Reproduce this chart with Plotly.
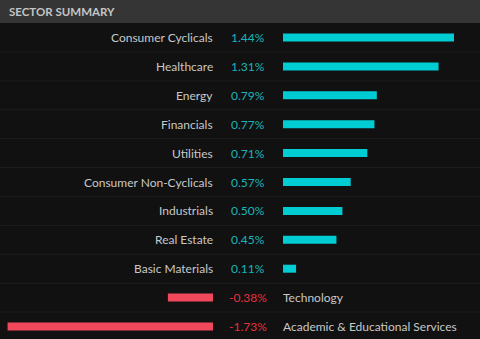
import plotly.graph_objects as go

sectors = ["Consumer Cyclicals", "Healthcare", "Energy", "Financials", "Utilities",
           "Consumer Non-Cyclicals", "Industrials", "Real Estate", "Basic Materials",
           "Technology", "Academic & Educational Services"]
changes = [1.44, 1.31, 0.79, 0.77, 0.71, 0.57, 0.50, 0.45, 0.11, -0.38, -1.73]
title = "SECTOR SUMMARY"

W, H = 480, 339
PX_PER_UNIT = 118.75
POS_ZERO = 283
NEG_ZERO = 213
VAL_CENTER = 248
ROW0 = 37.5
ROW_H = 28.9
HEADER_H = 23

BG = "#111111"
HEADER_BG = "#353535"
SEP = "#1e1e1e"
CYAN = "#00ccd3"
RED = "#f2485c"
POS_TXT = "#18b5bb"
NEG_TXT = "#e5303f"
LABEL = "#c8c8c8"
FONT = "Lato"

rows = list(range(len(sectors)))
pos_idx = [i for i, v in enumerate(changes) if v >= 0]
neg_idx = [i for i, v in enumerate(changes) if v < 0]

fig = go.Figure()
fig.add_trace(go.Bar(
    x=[changes[i] for i in pos_idx], y=[rows[i] for i in pos_idx],
    orientation="h", marker=dict(color=CYAN, line_width=0), width=8 / ROW_H,
    xaxis="x", yaxis="y", hoverinfo="skip", showlegend=False))
fig.add_trace(go.Bar(
    x=[changes[i] for i in neg_idx], y=[rows[i] for i in neg_idx],
    orientation="h", marker=dict(color=RED, line_width=0), width=8 / ROW_H,
    xaxis="x2", yaxis="y", hoverinfo="skip", showlegend=False))

x_range = [-POS_ZERO / PX_PER_UNIT, (W - POS_ZERO) / PX_PER_UNIT]
x2_range = [-NEG_ZERO / PX_PER_UNIT, (W - NEG_ZERO) / PX_PER_UNIT]
y_range = [(H - ROW0) / ROW_H, -ROW0 / ROW_H]

annotations = []
for i, (name, v) in enumerate(zip(sectors, changes)):
    txt = f"{v:.2f}%"
    annotations.append(dict(
        x=VAL_CENTER / W, xref="paper", y=i, yref="y", text=txt, showarrow=False,
        xanchor="center", yanchor="middle",
        font=dict(family=FONT, size=12, color=POS_TXT if v >= 0 else NEG_TXT)))
    if v >= 0:
        annotations.append(dict(
            x=0, xref="x2", y=i, yref="y", text=name, showarrow=False,
            xanchor="right", yanchor="middle", xshift=2,
            font=dict(family=FONT, size=12, color=LABEL)))
    else:
        annotations.append(dict(
            x=0, xref="x", y=i, yref="y", text=name, showarrow=False,
            xanchor="left", yanchor="middle", xshift=-2,
            font=dict(family=FONT, size=12, color=LABEL)))

annotations.append(dict(
    x=7 / W, xref="paper", y=1 - (HEADER_H / 2) / H, yref="paper", text=title,
    showarrow=False, xanchor="left", yanchor="middle",
    font=dict(family=FONT, size=11.5, color="#c4c4c4", weight="bold")))

shapes = [dict(type="rect", xref="paper", yref="paper", x0=0, x1=1,
               y0=1 - HEADER_H / H, y1=1, fillcolor=HEADER_BG, line_width=0, layer="below")]
for i in rows[:-1]:
    shapes.append(dict(type="line", xref="paper", yref="y", x0=0, x1=1,
                       y0=i + 0.5, y1=i + 0.5, line=dict(color=SEP, width=1), layer="below"))

fig.update_layout(
    width=W, height=H, margin=dict(l=0, r=0, t=0, b=0),
    paper_bgcolor=BG, plot_bgcolor=BG, barmode="overlay",
    xaxis=dict(range=x_range, visible=False, fixedrange=True),
    xaxis2=dict(range=x2_range, visible=False, overlaying="x", fixedrange=True),
    yaxis=dict(range=y_range, visible=False, fixedrange=True),
    annotations=annotations, shapes=shapes,
)
fig.write_html("out.html")
